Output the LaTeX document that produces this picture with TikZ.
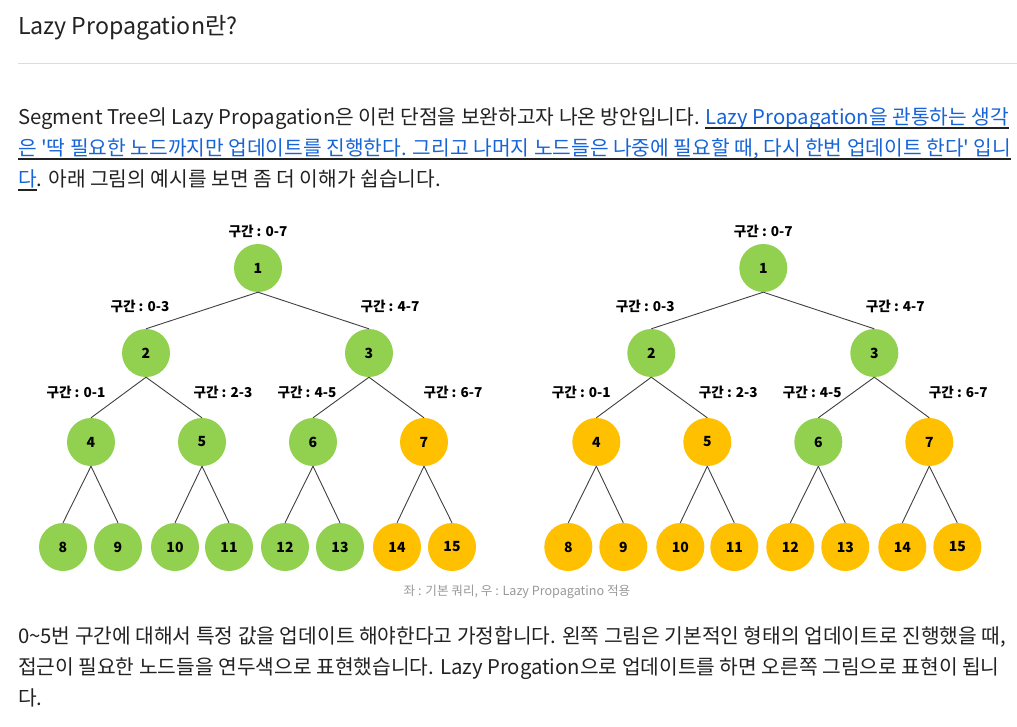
\documentclass[tikz,border=0pt]{standalone}
\usepackage{fontspec}
\setmainfont{Noto Sans CJK KR}[Ligatures=TeXOff]
\definecolor{tgreen}{HTML}{92D050}
\definecolor{torange}{HTML}{FFC000}
\definecolor{linkblue}{RGB}{22,100,216}
\definecolor{bodytext}{HTML}{222222}
\definecolor{edgegray}{HTML}{404040}
\definecolor{rulegray}{HTML}{DDDDDD}
\definecolor{capgray}{HTML}{999999}
\tikzset{
  txt/.style={anchor=base west, inner sep=0pt, outer sep=0pt},
  titletxt/.style={txt, font=\fontsize{23.2}{28}\selectfont, text=bodytext},
  bodytxt/.style={txt, font=\fontsize{20.3}{24}\selectfont, text=bodytext},
  linktxt/.style={txt, font=\fontsize{20.3}{24}\selectfont, text=linkblue},
  uline/.style={line width=1.8pt, bodytext},
  captxt/.style={anchor=center, inner sep=0pt, font=\fontsize{12.6}{14}\selectfont, text=capgray},
  tnode/.style={circle, minimum size=48pt, inner sep=0pt, font=\bfseries\fontsize{14}{16}\selectfont},
  gfill/.style={fill=tgreen},
  ofill/.style={fill=torange},
  edge/.style={draw=edgegray, line width=0.9pt},
  rangelab/.style={anchor=center, inner sep=0pt, font=\bfseries\fontsize{13.6}{15}\selectfont}
}
\newcommand{\segtree}[3]{%
  \begin{scope}[xshift=#2]
    \foreach \i/\x/\y in {1/258/268, 2/146/353, 3/369/353, 4/91/442, 5/202/442, 6/313/442, 7/424/442,
        8/63/547, 9/118/547, 10/175/547, 11/229/547, 12/285/547, 13/340/547, 14/397/547, 15/452/547}
      \coordinate (#1c\i) at (\x,\y);
    \foreach \i/\s in {#3}
      \node[tnode,\s] (#1\i) at (#1c\i) {\i};
    \foreach \p/\c in {1/2,1/3,2/4,2/5,3/6,3/7,4/8,4/9,5/10,5/11,6/12,6/13,7/14,7/15}
      \draw[edge] (#1\p.south) -- (#1\c.north);
    \node[rangelab] (#1r07) at (258,231) {구간 : 0-7};
    \node[rangelab] (#1r03) at (140,306) {구간 : 0-3};
    \node[rangelab] (#1r47) at (390,306) {구간 : 4-7};
    \node[rangelab] (#1r01) at (76,392) {구간 : 0-1};
    \node[rangelab] (#1r23) at (223,392) {구간 : 2-3};
    \node[rangelab] (#1r45) at (307,392) {구간 : 4-5};
    \node[rangelab] (#1r67) at (453,392) {구간 : 6-7};
  \end{scope}}
\begin{document}
\begin{tikzpicture}[x=1pt,y=-1pt]
\useasboundingbox[fill=white] (0,0) rectangle (1017,726);
% title and rule
\node[titletxt] (title) at (18,34) {Lazy Propagation란?};
\draw[rulegray, line width=1pt] (18,63) -- (1017,63);
% paragraph 1
\node[bodytxt] (p1a) at (18,124) {Segment Tree의 Lazy Propagation은 이런 단점을 보완하고자 나온 방안입니다.};
\node[linktxt] (p1b) at ([xshift=5.5pt]p1a.base east) {Lazy Propagation을 관통하는 생각};
\draw[uline] ([yshift=-4pt]p1b.base west) -- ([yshift=-4pt]p1b.base east);
\node[linktxt] (p2) at (18,155) {은 '딱 필요한 노드까지만 업데이트를 진행한다. 그리고 나머지 노드들은 나중에 필요할 때, 다시 한번 업데이트 한다' 입니};
\draw[uline] ([yshift=-4pt]p2.base west) -- ([yshift=-4pt]p2.base east);
\node[linktxt] (p3a) at (18,186) {다};
\draw[uline] ([yshift=-4pt]p3a.base west) -- ([yshift=-4pt]p3a.base east);
\node[bodytxt] (p3b) at (p3a.base east) {. 아래 그림의 예시를 보면 좀 더 이해가 쉽습니다.};
% trees
\segtree{L}{0pt}{1/gfill,2/gfill,3/gfill,4/gfill,5/gfill,6/gfill,7/ofill,8/gfill,9/gfill,10/gfill,11/gfill,12/gfill,13/gfill,14/ofill,15/ofill}
\segtree{R}{505.3pt}{1/gfill,2/gfill,3/gfill,4/ofill,5/ofill,6/gfill,7/ofill,8/ofill,9/ofill,10/ofill,11/ofill,12/ofill,13/ofill,14/ofill,15/ofill}
% caption
\node[captxt] (cap) at (517,592) {좌 : 기본 쿼리, 우 : Lazy Propagatino 적용};
% paragraph 2
\node[bodytxt] (q1) at (18,643) {0\textasciitilde5번 구간에 대해서 특정 값을 업데이트 해야한다고 가정합니다. 왼쪽 그림은 기본적인 형태의 업데이트로 진행했을 때,};
\node[bodytxt] (q2) at (18,674) {접근이 필요한 노드들을 연두색으로 표현했습니다. Lazy Progation으로 업데이트를 하면 오른쪽 그림으로 표현이 됩니};
\node[bodytxt] (q3) at (18,705) {다.};
\end{tikzpicture}
\end{document}
